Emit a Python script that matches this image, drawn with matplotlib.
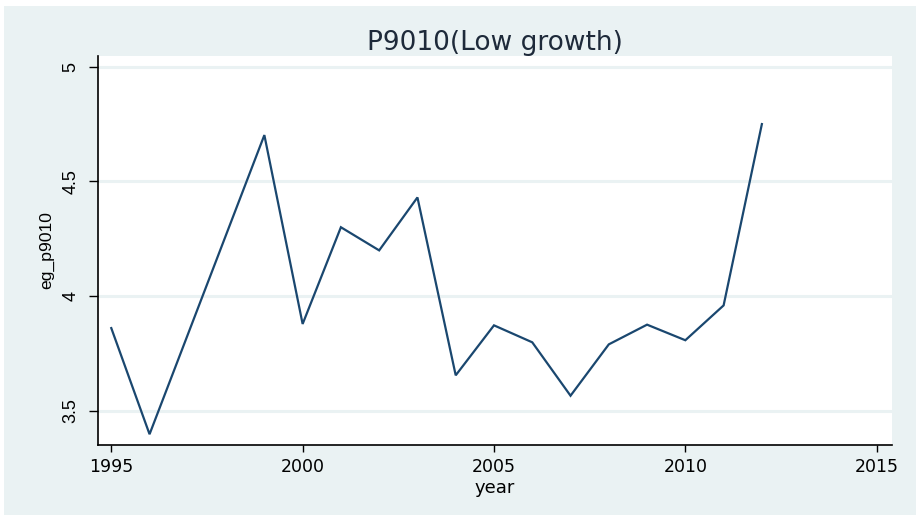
import matplotlib
matplotlib.use("Agg")
import matplotlib.pyplot as plt
from matplotlib.patches import Rectangle

years = [1995, 1996, 1999, 2000, 2001, 2002, 2003, 2004, 2005, 2006, 2007, 2008, 2009, 2010, 2011, 2012]
eg_p9010 = [3.860, 3.397, 4.702, 3.878, 4.300, 4.199, 4.430, 3.654, 3.872, 3.798, 3.565, 3.789, 3.875, 3.807, 3.959, 4.750]
xticks = [1995, 2000, 2005, 2010, 2015]
yticks = [3.5, 4, 4.5, 5]
ytick_labels = ["3.5", "4", "4.5", "5"]

BG = "#EAF2F3"
LINE = "#1A476F"
plt.rcParams['font.family'] = ['Liberation Sans', 'DejaVu Sans']
WIDE = ['DejaVu Sans']

W, H = 921, 528
fig = plt.figure(figsize=(W / 100, H / 100), dpi=100)
fig.patch.set_facecolor("white")
fig.add_artist(Rectangle((4 / W, 1 - 515 / H), (916 - 4) / W, (515 - 6) / H,
                         transform=fig.transFigure, facecolor=BG, edgecolor="none", zorder=0))

left, right, top, bottom = 97.5, 892, 56, 445
ax = fig.add_axes([left / W, 1 - bottom / H, (right - left) / W, (bottom - top) / H])
ax.set_facecolor("white")

ax.plot(years, eg_p9010, color=LINE, lw=1.6, solid_joinstyle="miter")

ax.set_xlim(1994.64, 2015.4)
ax.set_ylim(3.35, 5.047)
ax.set_xticks(xticks)
ax.set_xticklabels([str(x) for x in xticks], family=WIDE, fontsize=12.5)
ax.set_yticks(yticks)
ax.set_yticklabels(ytick_labels, rotation=90, va="center", fontsize=13)
ax.tick_params(axis="x", direction="out", length=5, width=1, colors="black", pad=4.5)
ax.tick_params(axis="y", direction="out", length=6.7, width=1, colors="black", pad=6.5)
for y in yticks:
    ax.axhline(y, color=BG, lw=2.2, zorder=0)

for s in ["top", "right"]:
    ax.spines[s].set_visible(False)
for s in ["left", "bottom"]:
    ax.spines[s].set_color("black")
    ax.spines[s].set_linewidth(1.2)

ax.set_xlabel("year", fontsize=13, family=WIDE, labelpad=2)
ax.set_ylabel("eg_p9010", fontsize=12.6, labelpad=6)
ax.set_title("P9010(Low growth)", fontsize=19, family=WIDE, color="#1E2A3A", pad=4)

fig.savefig("out.png", dpi=100, facecolor="white")
